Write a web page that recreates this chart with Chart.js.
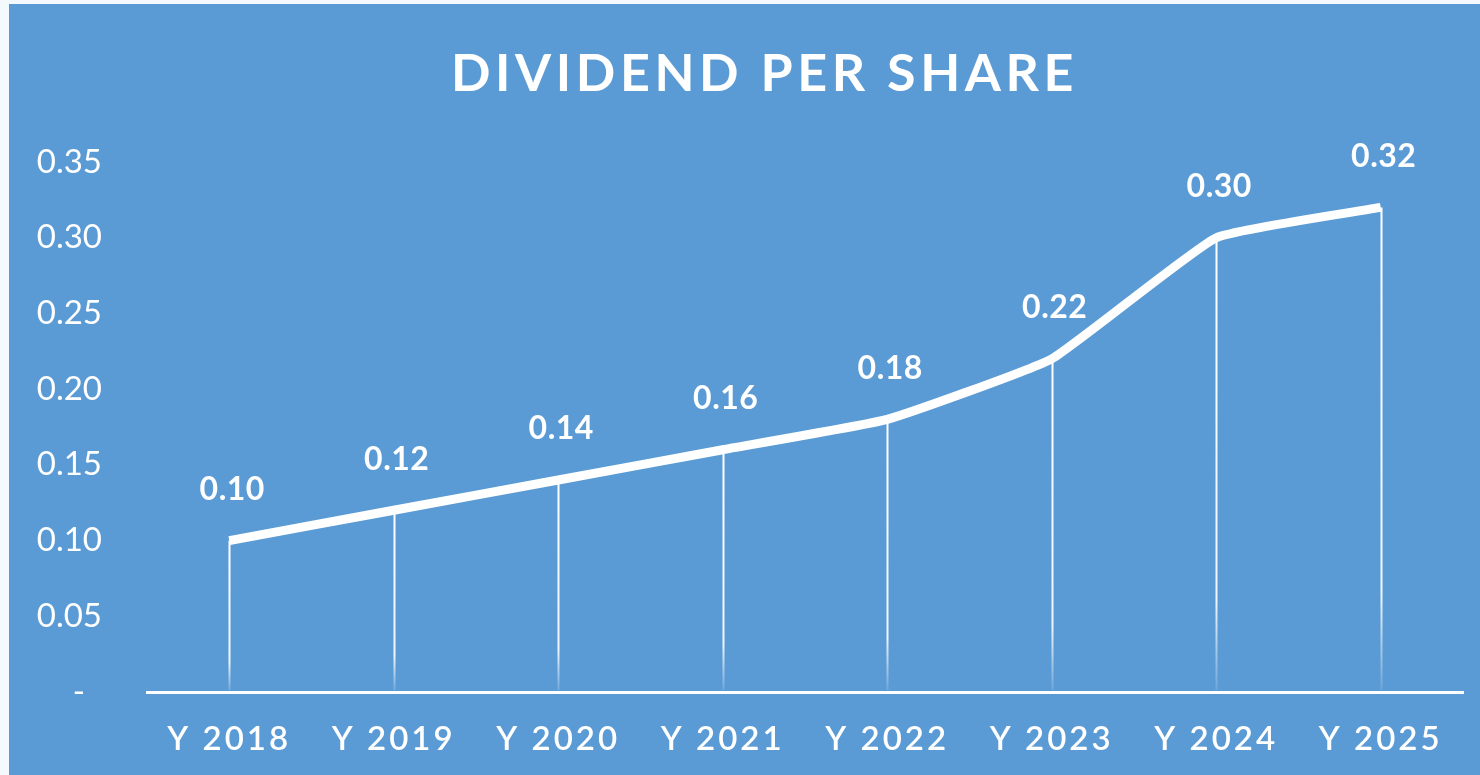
<!DOCTYPE html>
<html>
<head>
<meta charset="utf-8">
<script src="https://cdn.jsdelivr.net/npm/chart.js@4/dist/chart.umd.min.js"></script>
<style>
    html, body { margin: 0; padding: 0; background: #f4f9fe; }
    #wrap { position: absolute; left: 9px; top: 4px; width: 1471px; height: 771px; background: #5b9bd5; }
</style>
</head>
<body>
<div id="wrap"><canvas id="chart" width="1471" height="771"></canvas></div>
<script>
const TITLE = 'DIVIDEND PER SHARE';
const years = ['Y 2018', 'Y 2019', 'Y 2020', 'Y 2021', 'Y 2022', 'Y 2023', 'Y 2024', 'Y 2025'];
const dividend = [0.10, 0.12, 0.14, 0.16, 0.18, 0.22, 0.30, 0.32];
const yTicks = [0, 0.05, 0.10, 0.15, 0.20, 0.25, 0.30, 0.35];

const WHITE = '#ffffff';

// title with letter spacing, drawn in the reserved top padding
const titlePlugin = {
    id: 'spacedTitle',
    afterLayout(chart) {
        // category labels are letter-spaced too
        const sx = chart.scales.x;
        if (sx._spaced) return;
        const orig = sx.drawLabels.bind(sx);
        sx.drawLabels = (area) => {
            chart.ctx.save();
            chart.ctx.letterSpacing = '3px';
            orig(area);
            chart.ctx.restore();
        };
        sx._spaced = true;
    },
    afterDraw(chart) {
        const ctx = chart.ctx;
        ctx.save();
        ctx.font = 'bold 52px Lato';
        ctx.letterSpacing = '4.6px';
        ctx.fillStyle = WHITE;
        ctx.textAlign = 'center';
        ctx.textBaseline = 'middle';
        ctx.fillText(TITLE, chart.width / 2 + 20, 70);
        ctx.restore();
    },
};

// fading drop lines from each point to the axis, plus value labels
const dropLines = {
    id: 'dropLines',
    beforeDatasetsDraw(chart) {
        const ctx = chart.ctx;
        const meta = chart.getDatasetMeta(0);
        const bottom = chart.chartArea.bottom;
        ctx.save();
        ctx.lineWidth = 2;
        meta.data.forEach((pt) => {
            const g = ctx.createLinearGradient(0, pt.y, 0, bottom);
            g.addColorStop(0, 'rgba(255,255,255,1)');
            g.addColorStop(0.8, 'rgba(255,255,255,0.9)');
            g.addColorStop(1, 'rgba(255,255,255,0.1)');
            ctx.strokeStyle = g;
            ctx.beginPath();
            ctx.moveTo(Math.round(pt.x) + 0.5, pt.y);
            ctx.lineTo(Math.round(pt.x) + 0.5, bottom - 2);
            ctx.stroke();
        });
        ctx.restore();
    },
    afterDatasetsDraw(chart) {
        const ctx = chart.ctx;
        const meta = chart.getDatasetMeta(0);
        ctx.save();
        ctx.font = 'bold 32px Lato';
        ctx.letterSpacing = '0.5px';
        ctx.fillStyle = WHITE;
        ctx.textAlign = 'center';
        ctx.textBaseline = 'middle';
        meta.data.forEach((pt, i) => {
            ctx.fillText(dividend[i].toFixed(2), pt.x + 3, pt.y - 51);
        });
        ctx.restore();
    },
};

const ctx = document.getElementById('chart');
new Chart(ctx, {
    type: 'line',
    data: {
        labels: years,
        datasets: [{
            label: 'Dividend per share',
            data: dividend,
            borderColor: WHITE,
            borderWidth: 9,
            borderCapStyle: 'butt',
            borderJoinStyle: 'round',
            pointRadius: 0,
            tension: 0.12,
        }],
    },
    options: {
        responsive: false,
        devicePixelRatio: 1,
        animation: false,
        layout: { padding: { top: 158, right: 17, left: 0, bottom: 0 } },
        plugins: {
            legend: { display: false },
            title: { display: false },
            tooltip: { enabled: false },
        },
        scales: {
            x: {
                offset: true,
                afterFit: (s) => { s.height = 83; },
                grid: { display: false, drawTicks: false },
                border: { display: true, color: WHITE, width: 3 },
                ticks: {
                    color: WHITE,
                    padding: 28,
                    font: { family: 'Lato', size: 33, weight: '600' },
                },
            },
            y: {
                min: 0,
                max: 0.35,
                afterFit: (s) => { s.width = 138; },
                afterBuildTicks: (s) => { s.ticks = yTicks.map((v) => ({ value: v })); },
                grid: { display: false, drawTicks: false },
                border: { display: false },
                ticks: {
                    color: WHITE,
                    padding: 45,
                    font: { family: 'Lato', size: 33 },
                    callback: (v) => (v === 0 ? '-  ' : Number(v).toFixed(2)),
                },
            },
        },
    },
    plugins: [titlePlugin, dropLines],
});
</script>
</body>
</html>
